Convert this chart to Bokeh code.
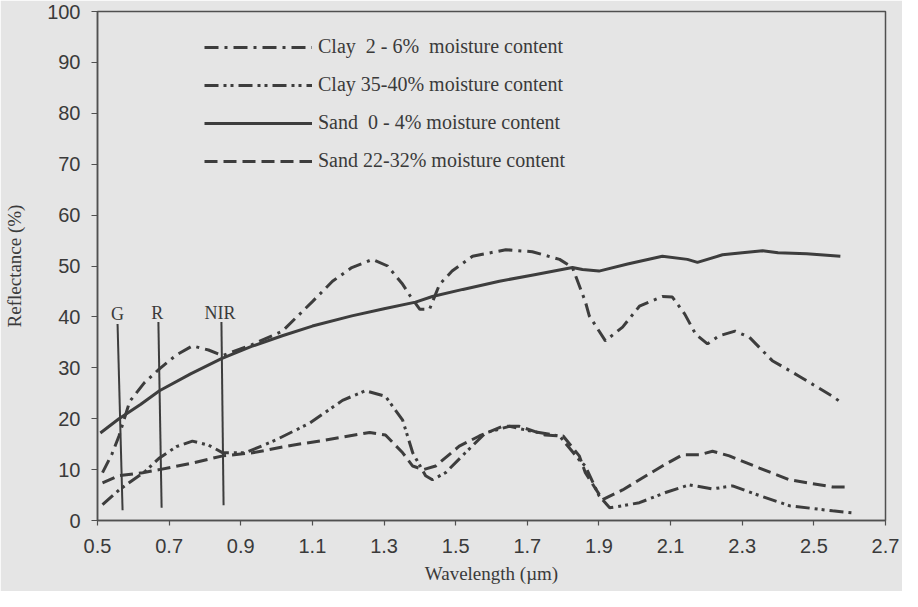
from bokeh.plotting import figure
from bokeh.models import Range1d, Legend, LegendItem, FixedTicker, ColumnDataSource, LabelSet
from bokeh.embed import file_html
from bokeh.resources import INLINE

# ---- data ----
sand_dry_x = [0.508, 0.56, 0.62, 0.673, 0.76, 0.846, 0.93, 1.016, 1.10, 1.21, 1.30, 1.388, 1.435, 1.52,
              1.622, 1.72, 1.826, 1.854, 1.90, 1.98, 2.077, 2.147, 2.175, 2.245, 2.30, 2.357, 2.40, 2.48, 2.574]
sand_dry_y = [17.2, 20, 22.8, 25.5, 28.8, 31.8, 34.2, 36.3, 38.2, 40.2, 41.6, 42.9, 44, 45.4,
              47, 48.3, 49.7, 49.3, 49, 50.4, 51.9, 51.3, 50.7, 52.2, 52.6, 53, 52.6, 52.4, 51.9]

clay_dry_x = [0.514, 0.54, 0.56, 0.59, 0.63, 0.673, 0.72, 0.765, 0.81, 0.849, 0.93, 1.016, 1.10, 1.156,
              1.21, 1.268, 1.31, 1.352, 1.374, 1.40, 1.427, 1.455, 1.49, 1.547, 1.64, 1.714, 1.79, 1.826,
              1.862, 1.873, 1.918, 1.966, 2.013, 2.077, 2.105, 2.14, 2.17, 2.203, 2.236, 2.28, 2.32,
              2.384, 2.46, 2.552, 2.58]
clay_dry_y = [9.4, 13, 16.6, 23.4, 27, 29.8, 32.5, 34.3, 33.5, 32.4, 34.5, 37.2, 43, 47,
              49.7, 51.3, 50, 46.4, 44, 41.5, 41.5, 46.4, 49, 51.9, 53.2, 52.8, 51.3, 49.7,
              43, 40.2, 35.3, 38, 42.1, 44, 43.9, 40.5, 36.6, 34.7, 36.3, 37.2, 36,
              31.4, 28.3, 24.4, 23]

clay_wet_x = [0.514, 0.56, 0.60, 0.634, 0.673, 0.72, 0.765, 0.81, 0.85, 0.913, 0.997, 1.092, 1.184,
              1.248, 1.304, 1.352, 1.38, 1.416, 1.435, 1.472, 1.527, 1.583, 1.65, 1.714, 1.79, 1.845,
              1.862, 1.90, 1.93, 1.966, 2.013, 2.086, 2.152, 2.217, 2.273, 2.348, 2.432, 2.552, 2.61]
clay_wet_y = [3.1, 6, 8, 9.7, 12.3, 14.5, 15.6, 14.8, 13.3, 13.3, 15.8, 19.1, 23.6,
              25.5, 24.4, 19.7, 13.3, 8.8, 8, 9.4, 13.3, 17.2, 18.5, 17.5, 16.6, 11.9,
              10.7, 4.9, 2.5, 2.9, 3.5, 5.5, 7, 6.2, 6.8, 4.9, 2.9, 1.9, 1.5]

sand_wet_x = [0.514, 0.56, 0.626, 0.673, 0.765, 0.85, 0.933, 1.044, 1.137, 1.26, 1.304, 1.352, 1.38,
              1.41, 1.444, 1.51, 1.566, 1.63, 1.678, 1.75, 1.80, 1.845, 1.862, 1.91, 1.966, 2.013,
              2.077, 2.133, 2.18, 2.217, 2.264, 2.348, 2.432, 2.552, 2.59]
sand_wet_y = [7.4, 8.8, 9.4, 10, 11.3, 12.7, 13.3, 14.8, 15.8, 17.3, 16.8, 13.3, 10.7,
              10, 10.7, 14.6, 16.6, 18.5, 18.5, 16.8, 16.6, 12.7, 9.4, 4.1, 6, 8,
              10.7, 12.9, 12.9, 13.6, 12.7, 10.3, 8, 6.6, 6.6]

series_labels = ["Clay  2 - 6%  moisture content",
                 "Clay 35-40% moisture content",
                 "Sand  0 - 4% moisture content",
                 "Sand 22-32% moisture content"]

band_names = ["G", "R", "NIR"]
band_top_x = [0.556, 0.670, 0.846]
band_bottom_x = [0.570, 0.679, 0.852]
band_top_y = [38.6, 39.0, 39.0]
band_bottom_y = [2.0, 2.5, 3.0]
band_label_x = [0.556, 0.667, 0.842]
band_label_y = [39.4, 39.6, 39.6]

x_ticks = [0.5, 0.7, 0.9, 1.1, 1.3, 1.5, 1.7, 1.9, 2.1, 2.3, 2.5, 2.7]
y_ticks = [0, 10, 20, 30, 40, 50, 60, 70, 80, 90, 100]

# ---- figure ----
INK = "#3d3d3d"
BG = "#e5e5e5"

p = figure(width=902, height=591, output_backend="svg", toolbar_location=None,
           x_range=Range1d(0.5, 2.7), y_range=Range1d(0, 100),
           min_border_left=97, min_border_right=17, min_border_top=11, min_border_bottom=71)
p.background_fill_color = BG
p.border_fill_color = BG
p.outline_line_color = "#505050"
p.outline_line_width = 1.5
p.grid.visible = False

for ax in (p.xaxis[0], p.yaxis[0]):
    ax.axis_line_color = "#505050"
    ax.axis_line_width = 1.5
    ax.major_tick_line_color = "#505050"
    ax.major_tick_line_width = 1.2
    ax.major_tick_in = 0
    ax.minor_tick_line_color = None
    ax.major_label_text_font = "Liberation Sans"
    ax.major_label_text_font_size = "20px"
    ax.major_label_text_color = "#3a3a3a"
    ax.axis_label_text_font = "Liberation Serif"
    ax.axis_label_text_font_style = "normal"
    ax.axis_label_text_color = "#3a3a3a"
    ax.axis_label_text_font_size = "19px"

p.xaxis.ticker = FixedTicker(ticks=x_ticks)
p.yaxis.ticker = FixedTicker(ticks=y_ticks)
p.xaxis.major_tick_out = 5
p.yaxis.major_tick_out = 6
p.xaxis.major_label_standoff = 13
p.yaxis.major_label_standoff = 11
p.xaxis.axis_label = "Wavelength (\u00b5m)"
p.yaxis.axis_label = "Reflectance (%)"
p.xaxis.axis_label_standoff = 7
p.yaxis.axis_label_standoff = 19

LW = 3
r_clay_dry = p.line(clay_dry_x, clay_dry_y, line_color=INK, line_width=LW, line_dash="14 6 3 6")
r_clay_wet = p.line(clay_wet_x, clay_wet_y, line_color=INK, line_width=LW, line_dash="14 5 3 4 3 5")
r_sand_dry = p.line(sand_dry_x, sand_dry_y, line_color=INK, line_width=LW)
r_sand_wet = p.line(sand_wet_x, sand_wet_y, line_color=INK, line_width=LW, line_dash="13 6")

# band marker lines
p.segment(x0=band_top_x, y0=band_top_y, x1=band_bottom_x, y1=band_bottom_y,
          line_color=INK, line_width=2)
src = ColumnDataSource(dict(x=band_label_x, y=band_label_y, t=band_names))
p.add_layout(LabelSet(x="x", y="y", text="t", source=src, text_align="center",
                      text_baseline="alphabetic", text_font="Liberation Serif",
                      text_font_size="18px", text_color="#3a3a3a"))

legend = Legend(items=[LegendItem(label=series_labels[0], renderers=[r_clay_dry]),
                       LegendItem(label=series_labels[1], renderers=[r_clay_wet]),
                       LegendItem(label=series_labels[2], renderers=[r_sand_dry]),
                       LegendItem(label=series_labels[3], renderers=[r_sand_wet])],
                location=(107, 348), glyph_width=108, glyph_height=22, label_height=22,
                label_standoff=6, spacing=15, padding=0, margin=0,
                label_text_font="Liberation Serif", label_text_font_size="20px",
                label_text_color="#3a3a3a", background_fill_alpha=0, border_line_alpha=0)
p.add_layout(legend, "center")

open("out.html", "w").write(file_html(p, INLINE))
